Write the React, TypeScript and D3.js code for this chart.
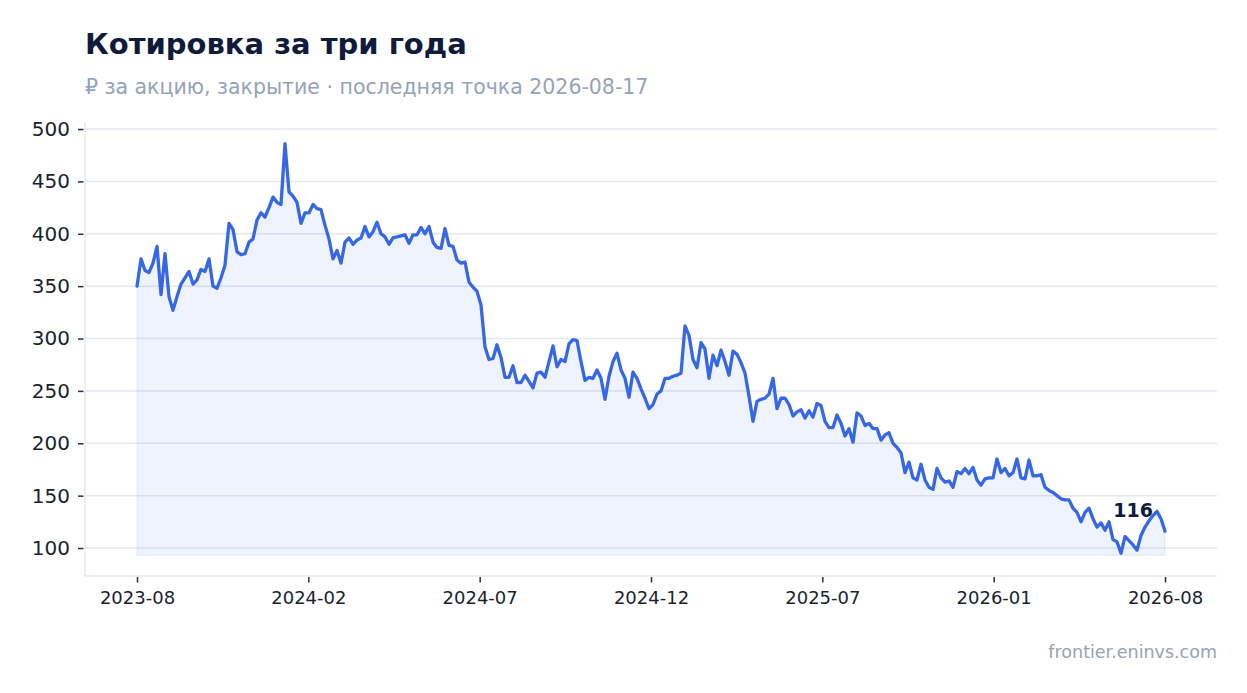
import { useEffect, useRef } from 'react'
import * as d3 from 'd3'

// closing price, ₽ per share, one reading every ~4 trading days
const prices: number[] = [
  350, 376, 365, 363, 372, 388, 342, 381, 340, 327, 340, 352, 358, 364, 352, 356, 366, 364, 376, 350,
  348, 358, 370, 410, 404, 383, 380, 381, 392, 395, 413, 420, 416, 425, 435, 430, 428, 486, 440, 436,
  430, 410, 420, 420, 428, 424, 423, 408, 395, 376, 384, 372, 392, 396, 390, 394, 396, 407, 397, 402,
  411, 400, 397, 390, 396, 397, 398, 399, 391, 399, 399, 406, 400, 407, 392, 387, 386, 405, 389, 388,
  375, 372, 373, 354, 349, 345, 332, 292, 280, 281, 294, 282, 263, 263, 274, 258, 258, 265, 259, 253,
  267, 268, 263, 278, 293, 273, 280, 278, 295, 299, 298, 278, 260, 263, 262, 270, 262, 242, 264, 278,
  286, 270, 262, 244, 268, 262, 252, 243, 233, 237, 247, 250, 262, 262, 264, 265, 267, 312, 303, 280,
  272, 296, 290, 262, 284, 274, 289, 278, 265, 288, 285, 277, 267, 245, 221, 240, 242, 243, 247, 262,
  233, 243, 243, 237, 226, 230, 232, 224, 231, 225, 238, 236, 221, 215, 215, 227, 219, 207, 214, 201,
  229, 226, 217, 219, 214, 214, 203, 208, 210, 200, 196, 191, 172, 182, 167, 165, 180, 165, 158, 156,
  176, 167, 163, 164, 158, 173, 171, 176, 171, 177, 165, 160, 166, 167, 167, 185, 172, 176, 169, 172,
  185, 167, 166, 184, 169, 169, 170, 158, 155, 153, 150, 147, 146, 146, 138, 134, 125, 134, 138, 128,
  120, 124, 117, 125, 108, 106, 95, 111, 107, 103, 98, 112, 120, 126, 131, 135, 128, 116,
]

const xTickLabels = ['2023-08', '2024-02', '2024-07', '2024-12', '2025-07', '2026-01', '2026-08']
const yTicks = [100, 150, 200, 250, 300, 350, 400, 450, 500]
const lastDate = '2026-08-17'

const FONT = '"DejaVu Sans", Verdana, sans-serif'
const LINE = '#3668e6'
const GRID = '#e3e8f1'
const MUTED = '#97a3b6'
const INK = '#0f1b3d'

export default function App() {
  const svgRef = useRef<SVGSVGElement>(null)
  const width = 1247
  const height = 693

  useEffect(() => {
    if (!svgRef.current) return
    const svg = d3.select(svgRef.current)
    svg.selectAll('*').remove()

    const margin = { top: 122, right: 30, bottom: 117, left: 85 }
    const x0 = margin.left
    const x1 = width - margin.right
    const y0 = height - margin.bottom
    const y1 = margin.top

    const n = prices.length
    const pad = 13
    const xScale = d3.scaleLinear().domain([-pad, n - 1 + pad]).range([x0, x1])
    const yScale = d3.scaleLinear().domain([73.3, 506.7]).range([y0, y1])

    // Title block
    svg.append('text')
      .attr('x', 85).attr('y', 54)
      .attr('font-family', FONT).attr('font-size', 29).attr('font-weight', 700)
      .attr('fill', INK)
      .text('Котировка за три года')

    svg.append('text')
      .attr('x', 85).attr('y', 94)
      .attr('font-family', FONT).attr('font-size', 20.5)
      .attr('fill', MUTED)
      .text(`₽ за акцию, закрытие · последняя точка ${lastDate}`)

    // Grid
    svg.append('g')
      .selectAll('line')
      .data(yTicks)
      .enter()
      .append('line')
      .attr('x1', x0).attr('x2', x1)
      .attr('y1', d => yScale(d)).attr('y2', d => yScale(d))
      .attr('stroke', GRID).attr('stroke-width', 1.5)

    // Spines
    svg.append('line')
      .attr('x1', x0).attr('x2', x0).attr('y1', y1).attr('y2', y0)
      .attr('stroke', GRID).attr('stroke-width', 1.5)
    svg.append('line')
      .attr('x1', x0).attr('x2', x1).attr('y1', y0).attr('y2', y0)
      .attr('stroke', GRID).attr('stroke-width', 1.5)

    // Area under the line
    const base = (d3.min(prices) ?? 0) * 0.98
    const area = d3.area<number>()
      .x((_, i) => xScale(i))
      .y0(yScale(base))
      .y1(d => yScale(d))

    svg.append('path')
      .datum(prices)
      .attr('d', area)
      .attr('fill', LINE).attr('fill-opacity', 0.08)
      .attr('stroke', LINE).attr('stroke-opacity', 0.07).attr('stroke-width', 1.5)

    const line = d3.line<number>()
      .x((_, i) => xScale(i))
      .y(d => yScale(d))

    svg.append('path')
      .datum(prices)
      .attr('d', line)
      .attr('fill', 'none')
      .attr('stroke', LINE)
      .attr('stroke-width', 3.3)
      .attr('stroke-linejoin', 'round')
      .attr('stroke-linecap', 'round')

    // Axes
    const yAxis = svg.append('g')
      .attr('transform', `translate(${x0 - 1.5},0)`)
      .call(d3.axisLeft(yScale).tickValues(yTicks).tickSize(5.5).tickPadding(8).tickFormat(d => String(d)))
    yAxis.select('.domain').remove()
    yAxis.selectAll('line').attr('stroke', '#2a2f3a').attr('stroke-width', 1.5)
    yAxis.selectAll('text')
      .attr('font-family', FONT).attr('font-size', 20).attr('fill', '#1a1f2e')

    const tickIdx = xTickLabels.map((_, k) => (k * (n - 1)) / (xTickLabels.length - 1))
    const xAxis = svg.append('g')
      .attr('transform', `translate(0,${y0 + 1})`)
      .call(d3.axisBottom(xScale).tickValues(tickIdx).tickSize(5.5).tickPadding(9)
        .tickFormat((_, i) => xTickLabels[i]))
    xAxis.select('.domain').remove()
    xAxis.selectAll('line').attr('stroke', '#2a2f3a').attr('stroke-width', 1.5)
    xAxis.selectAll('text')
      .attr('font-family', FONT).attr('font-size', 18).attr('fill', '#1a1f2e')

    // Last value label
    const last = prices[n - 1]
    svg.append('text')
      .attr('x', xScale(n - 1) - 12)
      .attr('y', yScale(last) - 14)
      .attr('text-anchor', 'end')
      .attr('font-family', FONT).attr('font-size', 19).attr('font-weight', 700)
      .attr('fill', INK)
      .text(String(last))

    // Source
    svg.append('text')
      .attr('x', x1).attr('y', 658)
      .attr('text-anchor', 'end')
      .attr('font-family', FONT).attr('font-size', 17.5)
      .attr('fill', MUTED)
      .text('frontier.eninvs.com')
  }, [])

  return (
    <div style={{ position: 'absolute', left: 0, top: 0 }}>
      <svg ref={svgRef} width={width} height={height} style={{ display: 'block', background: '#fff' }} />
    </div>
  )
}
